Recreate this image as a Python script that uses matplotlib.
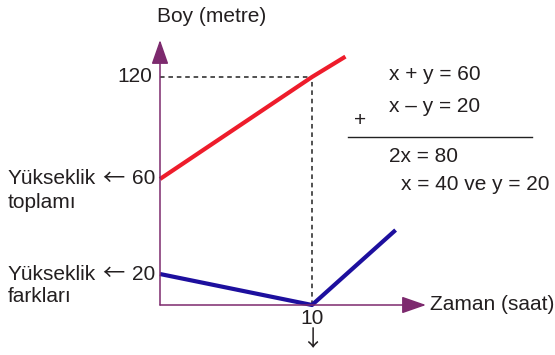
import numpy as np
from matplotlib import pyplot as plt

plt.rcParams["font.family"] = ["Liberation Sans", "DejaVu Sans"]
plt.rcParams["font.size"] = 15
plt.rcParams["text.color"] = "#231f20"

# veriler (sema olceksiz cizilmis, bu yuzden y ekseni parca parca dogrusal)
red_x = [0, 10, 12.2]
red_y = [60, 120, 132]
blue_x = [0, 10, 15.5]
blue_y = [20, 0, 38.5]
y_ticks = [120, 60, 20]
x_tick = 10

# y degeri -> eksenden yukari piksel
val_pts = [-100, 0, 20, 60, 120, 300]
pix_pts = [-155, 0, 31, 126, 228, 534]


def fwd(v):
    return np.interp(v, val_pts, pix_pts)


def inv(p):
    return np.interp(p, pix_pts, val_pts)


def X(p):  # piksel -> x degeri
    return (p - 160) / px


def Y(p):  # piksel -> y degeri
    return inv(305 - p)


fig = plt.figure(figsize=(5.55, 3.55), dpi=100)
ax = fig.add_axes([0, 0, 1, 1])
ax.set_yscale("function", functions=(fwd, inv))
px = 15.2  # x icin birim basina piksel
ax.set_xlim(X(0), X(555))
ax.set_ylim(Y(355), Y(0))
ax.axis("off")

axis_c = "#7d2a6e"
# eksenler
ax.annotate("", xy=(0, Y(40)), xytext=(0, 0),
            arrowprops=dict(arrowstyle="-|>,head_length=1.0,head_width=0.35", color=axis_c, lw=1.1, shrinkA=0, shrinkB=0))
ax.annotate("", xy=(X(426), 0), xytext=(0, 0),
            arrowprops=dict(arrowstyle="-|>,head_length=1.0,head_width=0.35", color=axis_c, lw=1.1, shrinkA=0, shrinkB=0))

# kesikli yardimci cizgiler
ax.plot([0, x_tick], [120, 120], ls=(0, (3, 2.5)), c="#222222", lw=1.1)
ax.plot([x_tick, x_tick], [0, 120], ls=(0, (3, 2.5)), c="#222222", lw=1.1)

ax.plot(red_x, red_y, c="#ee1c2b", lw=3, solid_capstyle="butt")
ax.plot(blue_x, blue_y, c="#1d0f9e", lw=3, solid_capstyle="butt")

arrow_font = dict(family=["Noto Sans CJK JP", "DejaVu Sans"], fontsize=16)

# etiketler
ax.text(X(157), Y(17), "Boy (metre)", ha="left", va="center")
ax.text(X(152), y_ticks[0], str(y_ticks[0]), ha="right", va="center")
for yv, alt in [(y_ticks[1], "toplamı"), (y_ticks[2], "farkları")]:
    ax.text(X(155), yv, str(yv), ha="right", va="center")
    ax.text(X(113), yv, "←", ha="center", va="center", **arrow_font)
    ax.text(X(8), yv, "Yükseklik", ha="left", va="center")
    ax.text(X(8), Y(305 - fwd(yv) + 23), alt, ha="left", va="center")
ax.text(x_tick, Y(319), str(x_tick), ha="center", va="center")
ax.text(x_tick, Y(340), "↓", ha="center", va="center", **arrow_font)
ax.text(X(430), 0, "Zaman (saat)", ha="left", va="center")

# denklemler
ax.text(X(389), Y(75), "x + y = 60", ha="left", va="center")
ax.text(X(389), Y(107), "x – y = 20", ha="left", va="center")
ax.text(X(360), Y(121), "+", ha="center", va="center")
ax.plot([X(348), X(532)], [Y(137)] * 2, c="#222222", lw=1)
ax.text(X(389), Y(156), "2x = 80", ha="left", va="center")
ax.text(X(401), Y(185), "x = 40 ve y = 20", ha="left", va="center")

plt.savefig("out.png", dpi=100)
